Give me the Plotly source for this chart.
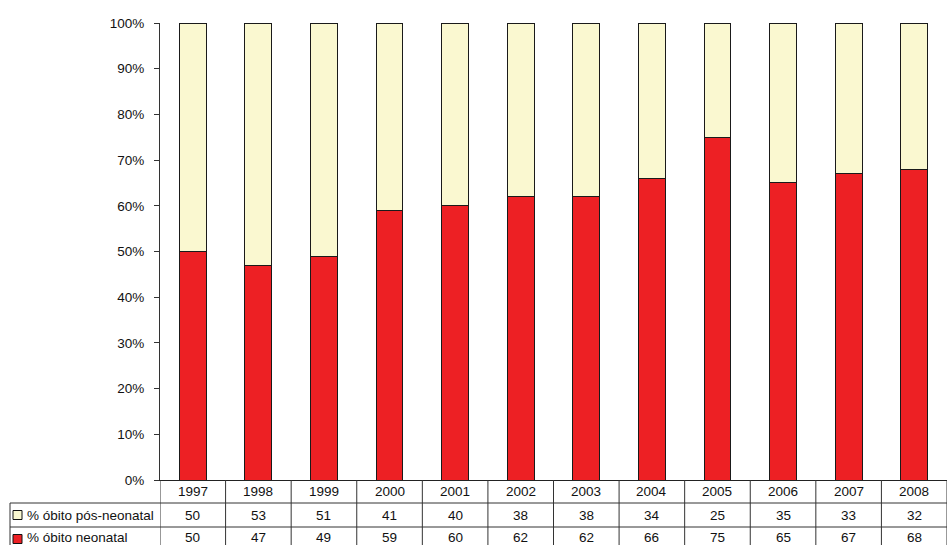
import plotly.graph_objects as go

years = ["1997", "1998", "1999", "2000", "2001", "2002", "2003", "2004", "2005", "2006", "2007", "2008"]
neonatal = [50, 47, 49, 59, 60, 62, 62, 66, 75, 65, 67, 68]
pos_neonatal = [50, 53, 51, 41, 40, 38, 38, 34, 25, 35, 33, 32]
yticks = [0, 10, 20, 30, 40, 50, 60, 70, 80, 90, 100]
ytick_text = [f"{v}%" for v in yticks]
series_names = ["% óbito pós-neonatal", "% óbito neonatal"]

RED = "#ED2024"
CREAM = "#FAF8D0"
FONT = "Liberation Sans Narrow, Arial Narrow, Liberation Sans, Arial, sans-serif"
FS = 13.5

W, H = 947, 545
L, R, T, B = 160, 0, 23, 65
plot_h = H - T - B
plot_w = W - L - R

fig = go.Figure()
fig.add_trace(go.Bar(x=years, y=neonatal, name=series_names[1],
                     marker=dict(color=RED, line=dict(color="#1a1a1a", width=1))))
fig.add_trace(go.Bar(x=years, y=pos_neonatal, name=series_names[0],
                     marker=dict(color=CREAM, line=dict(color="#1a1a1a", width=1))))

def py(px):  # pixels below plot bottom -> paper y
    return -px / plot_h

def pxp(px):  # absolute pixel x -> paper x
    return (px - L) / plot_w

label_x0 = pxp(10)
shapes = []
annotations = []
for r in (23, 47):
    shapes.append(dict(type="line", xref="paper", yref="paper", x0=label_x0, x1=1,
                       y0=py(r), y1=py(r), line=dict(color="#333", width=1)))
shapes.append(dict(type="line", xref="paper", yref="paper", x0=label_x0, x1=label_x0,
                   y0=py(23), y1=py(72), line=dict(color="#333", width=1)))
for i in range(len(years) + 1):
    shapes.append(dict(type="line", xref="x", yref="paper", x0=i - 0.5, x1=i - 0.5,
                       y0=0, y1=py(72), line=dict(color="#333", width=1)))

tf = dict(size=FS, color="#111", family=FONT)
for i, yr in enumerate(years):
    for text, yc in ((yr, 11.5), (str(pos_neonatal[i]), 35), (str(neonatal[i]), 57.5)):
        annotations.append(dict(x=i, y=py(yc), xref="x", yref="paper", text=text,
                                showarrow=False, xanchor="center", yanchor="middle", font=tf))

for name, color, yc, sc in [(series_names[0], CREAM, 35, 35), (series_names[1], RED, 57.5, 59)]:
    shapes.append(dict(type="rect", xref="paper", yref="paper", x0=pxp(13), x1=pxp(22),
                       y0=py(sc + 4.5), y1=py(sc - 4.5), fillcolor=color,
                       line=dict(color="#111", width=1)))
    annotations.append(dict(x=pxp(25), y=py(yc), xref="paper", yref="paper",
                            text=name, showarrow=False, xanchor="left", yanchor="middle",
                            font=tf))

fig.update_layout(
    width=W, height=H,
    margin=dict(l=L, r=R, t=T, b=B),
    barmode="stack", bargap=0.59,
    plot_bgcolor="white", paper_bgcolor="white",
    showlegend=False,
    font=dict(family=FONT, size=FS, color="#111"),
    xaxis=dict(type="category", range=[-0.5, 11.5], showticklabels=False, showgrid=False,
               showline=True, linecolor="#222", linewidth=1, ticks="", zeroline=False,
               fixedrange=True),
    yaxis=dict(range=[0, 100], tickvals=yticks, ticktext=ytick_text, showgrid=False,
               showline=True, linecolor="#333", linewidth=1, ticks="outside", ticklen=5,
               tickcolor="#333", zeroline=False, ticklabelstandoff=7, fixedrange=True),
    shapes=shapes, annotations=annotations,
)

fig.write_html("out.html")
